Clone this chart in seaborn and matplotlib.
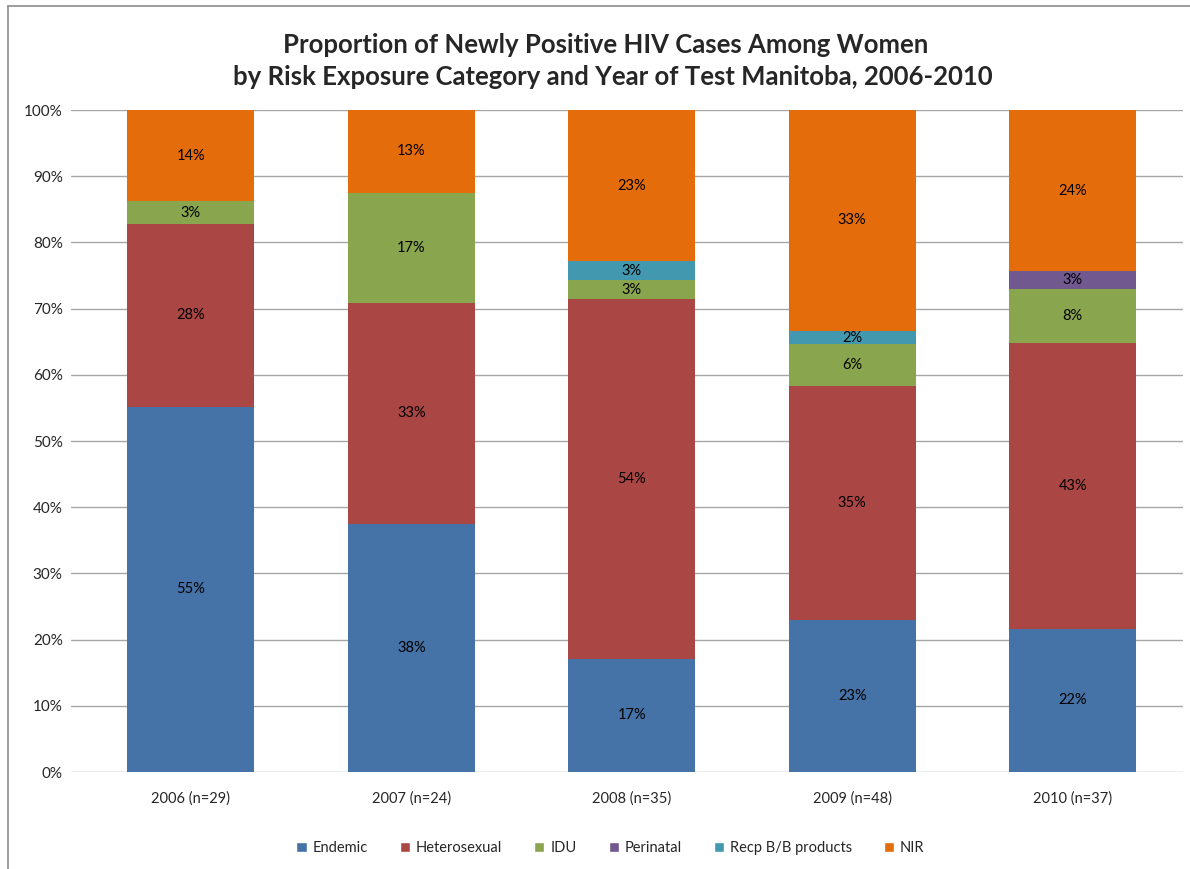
import pandas as pd
import matplotlib.pyplot as plt
import seaborn as sns
from matplotlib.lines import Line2D
from matplotlib.patches import Patch

years = ["2006 (n=29)", "2007 (n=24)", "2008 (n=35)", "2009 (n=48)", "2010 (n=37)"]
categories = ["Endemic", "Heterosexual", "IDU", "Perinatal", "Recp B/B products", "NIR"]

endemic = [55.17, 37.5, 17.14, 22.92, 21.62]
heterosexual = [27.59, 33.33, 54.29, 35.42, 43.24]
idu = [3.45, 16.67, 2.86, 6.25, 8.11]
perinatal = [0, 0, 0, 0, 2.7]
recp = [0, 0, 2.86, 2.08, 0]
nir = [13.79, 12.5, 22.86, 33.33, 24.33]

colors = ["#4572A7", "#AA4643", "#89A54E", "#71588F", "#4198AF", "#E46C0A"]

df = pd.DataFrame({"year": years, "Endemic": endemic, "Heterosexual": heterosexual,
                   "IDU": idu, "Perinatal": perinatal, "Recp B/B products": recp, "NIR": nir})

sns.set_style("white")
plt.rcParams['font.family'] = ['Lato', 'DejaVu Sans']

fig = plt.figure(figsize=(11.9, 8.69), dpi=100)
ax = fig.add_axes([0.0597, 0.1116, 0.9343, 0.7618])

bottom = [0.0] * len(years)
for cat, col in zip(categories, colors):
    sns.barplot(data=df, x="year", y=cat, color=col, bottom=bottom, width=0.576,
                saturation=1, linewidth=0, ax=ax, zorder=3)
    for i, v in enumerate(df[cat]):
        if v > 0:
            # Excel style rounding (half away from zero)
            ax.text(i, bottom[i] + v / 2, f"{int(v + 0.5)}%", ha="center", va="center",
                    fontsize=10.5, color="black", zorder=4)
    bottom = [b + v for b, v in zip(bottom, df[cat])]

ax.set_ylim(0, 100)
ax.set_xlim(-0.544, 4.5)
ax.set_yticks(range(0, 101, 10))
ax.set_yticklabels([f"{t}%" for t in range(0, 101, 10)], fontsize=11)
ax.tick_params(axis="x", labelsize=10.5, pad=14, length=0)
ax.tick_params(axis="y", length=0, pad=6)
ax.set_xlabel("")
ax.set_ylabel("")
ax.grid(axis="y", color="#A6A6A6", linewidth=1, zorder=0)
for s in ax.spines.values():
    s.set_visible(False)

fig.text(0.509, 0.948, "Proportion of Newly Positive HIV Cases Among Women",
         ha="center", va="center", fontsize=18.5, fontweight="bold")
fig.text(0.515, 0.911, "by Risk Exposure Category and Year of Test Manitoba, 2006-2010",
         ha="center", va="center", fontsize=18.5, fontweight="bold")

handles = [Patch(facecolor=c, label=l) for c, l in zip(colors, categories)]
fig.legend(handles=handles, loc="center", bbox_to_anchor=(0.513, 0.024), ncol=6,
           frameon=False, fontsize=10.5, handlelength=0.7, handleheight=0.7,
           handletextpad=0.4, columnspacing=2.2)

fig.add_artist(Line2D([8 / 1190, 8 / 1190], [0, 1 - 6 / 869], color="#8C8C8C", linewidth=1.2))
fig.add_artist(Line2D([8 / 1190, 1], [1 - 6 / 869, 1 - 6 / 869], color="#8C8C8C", linewidth=1.2))

plt.savefig("out.png", dpi=100)
plt.close()
